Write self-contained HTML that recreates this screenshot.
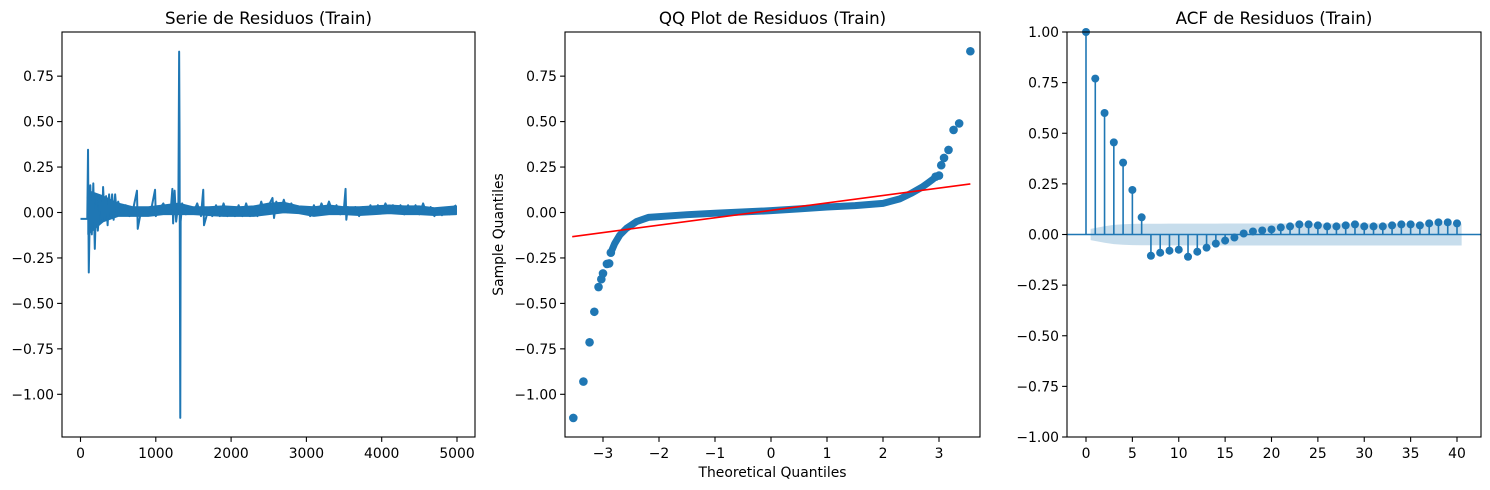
<!DOCTYPE html>
<html><head><meta charset="utf-8"><style>
html,body{margin:0;padding:0;background:#fff;}
svg{display:block;font-family:"DejaVu Sans","Liberation Sans",sans-serif;}
</style></head><body>
<svg id="fig" width="1490" height="490" viewBox="0 0 1490 490" xmlns="http://www.w3.org/2000/svg"></svg>
<script>
// ---- Panel 1 data: residual series (index, value) ----
const resIdx = [0,90,100,110,130,150,170,190,210,230,260,290,300,320,340,360,380,400,420,440,460,480,500,550,600,650,700,750,760,800,850,900,950,990,1000,1050,1100,1150,1200,1220,1230,1250,1270,1300,1310,1315,1325,1330,1350,1400,1450,1500,1550,1600,1630,1640,1700,1750,1800,1850,1900,1950,2000,2050,2100,2150,2200,2250,2300,2350,2400,2450,2500,2550,2570,2600,2650,2700,2750,2800,2850,2900,2950,3000,3050,3100,3150,3200,3250,3300,3350,3400,3450,3500,3520,3530,3550,3600,3650,3700,3750,3800,3850,3900,3950,4000,4050,4100,4150,4200,4250,4300,4350,4400,4450,4500,4550,4600,4650,4700,4750,4800,4850,4900,4950,4990];
const resVal = [-0.035,-0.035,0.345,-0.33,0.15,-0.12,0.16,-0.2,0.1,-0.1,0.08,-0.05,0.14,-0.04,0.09,-0.07,0.1,-0.02,0.1,-0.04,0.1,0.0,0.06,-0.01,0.04,-0.02,0.02,0.12,-0.09,0.0,0.02,-0.01,0.04,0.125,-0.02,0.02,0.05,0.0,0.02,0.13,-0.06,0.12,-0.05,0.05,0.885,0.45,-1.13,-0.05,0.05,-0.01,0.03,0.0,0.05,-0.02,0.125,-0.07,0.02,-0.02,0.04,-0.02,0.05,-0.02,0.03,-0.02,0.04,-0.02,0.05,-0.02,0.03,-0.02,0.06,-0.01,0.04,0.08,-0.03,0.06,0.0,0.07,0.0,0.05,0.0,0.03,0.0,0.02,-0.02,0.04,-0.01,0.05,0.0,0.06,0.0,0.04,-0.01,0.03,0.13,-0.04,0.03,-0.01,0.03,-0.02,0.03,-0.01,0.04,0.0,0.04,0.0,0.05,0.0,0.04,0.0,0.04,-0.01,0.04,0.0,0.04,-0.01,0.05,-0.01,0.03,-0.02,0.02,-0.015,0.02,-0.01,0.03,0.04];
// noise envelope of the dense series
const envIdx = [100,300,500,700,900,1100,1300,1500,1700,1900,2100,2300,2500,2700,2900,3100,3300,3500,3700,3900,4100,4300,4500,4700,4990];
const envHi  = [0.12,0.09,0.05,0.03,0.03,0.04,0.05,0.03,0.03,0.035,0.03,0.035,0.05,0.055,0.035,0.03,0.04,0.03,0.03,0.035,0.04,0.035,0.035,0.025,0.035];
const envLo  = [-0.12,-0.05,-0.02,-0.02,-0.02,-0.01,-0.01,-0.01,-0.015,-0.02,-0.02,-0.02,-0.01,0.0,-0.005,-0.02,-0.01,-0.01,-0.015,-0.01,-0.005,-0.01,-0.01,-0.015,-0.01];
const p1XTicks = [0,1000,2000,3000,4000,5000];
const yTicks = [0.75,0.5,0.25,0,-0.25,-0.5,-0.75,-1.0];
const yTickLabels = ["0.75","0.50","0.25","0.00","\u22120.25","\u22120.50","\u22120.75","\u22121.00"];

// ---- Panel 2 data: QQ ----
const qqBodyT = [-2.86,-2.79,-2.70,-2.58,-2.40,-2.19,-1.5,-1.0,0,0.5,1.0,1.5,2.0,2.3,2.5,2.7,2.8,2.9];
const qqBodyV = [-0.221,-0.17,-0.124,-0.087,-0.05,-0.027,-0.012,-0.004,0.01,0.02,0.03,0.038,0.05,0.075,0.105,0.14,0.162,0.185];
const qqTailT = [-3.53,-3.35,-3.24,-3.155,-3.08,-3.03,-3.0,-2.93,-2.89,-2.86,2.94,3.0,3.04,3.09,3.17,3.26,3.36,3.56];
const qqTailV = [-1.13,-0.93,-0.714,-0.546,-0.41,-0.367,-0.335,-0.283,-0.28,-0.221,0.197,0.203,0.26,0.30,0.344,0.454,0.49,0.887];
const qqLineT = [-3.55,3.56];
const qqLineV = [-0.133,0.157];
const p2XTicks = [-3,-2,-1,0,1,2,3];
const p2XTickLabels = ["\u22123","\u22122","\u22121","0","1","2","3"];

// ---- Panel 3 data: ACF ----
const acfVals = [1.0,0.77,0.60,0.455,0.355,0.22,0.085,-0.105,-0.09,-0.08,-0.075,-0.11,-0.085,-0.065,-0.045,-0.03,-0.015,0.005,0.015,0.02,0.025,0.035,0.04,0.05,0.05,0.045,0.04,0.04,0.045,0.05,0.04,0.04,0.04,0.045,0.05,0.05,0.045,0.055,0.06,0.06,0.055];
const nObs = 5000;
const p3XTicks = [0,5,10,15,20,25,30,35,40];
const p3YTicks = [1.0,0.75,0.5,0.25,0,-0.25,-0.5,-0.75,-1.0];
const p3YTickLabels = ["1.00","0.75","0.50","0.25","0.00","\u22120.25","\u22120.50","\u22120.75","\u22121.00"];

const NS = "http://www.w3.org/2000/svg";
const svg = document.getElementById("fig");
const BLUE = "#1f77b4";
const TFS = 13.9, TITLEFS = 16.7;
function mk(tag, attrs, parent){
  const e = document.createElementNS(NS, tag);
  for (const k in attrs) e.setAttribute(k, attrs[k]);
  (parent||svg).appendChild(e);
  return e;
}
function txt(s, attrs, parent){ const e = mk("text", attrs, parent); e.textContent = s; return e; }

function axesFrame(g, L, T, R, B){
  const f = mk("rect",{x:L,y:T,width:R-L,height:B-T,fill:"none",stroke:"#000","stroke-width":1.1},g);
  
  
}
function xTicks(g, vals, labels, sx, B){
  vals.forEach((v,i)=>{
    const x = sx(v);
    const t = mk("line",{x1:x,x2:x,y1:B,y2:B+4.9,stroke:"#000","stroke-width":1.1},g);
    
    
    const l = txt(labels[i],{x:x,y:B+21,"font-size":TFS,"text-anchor":"middle",fill:"#000"},g);
    
    
  });
}
function yTicksDraw(g, vals, labels, sy, L){
  vals.forEach((v,i)=>{
    const y = sy(v);
    const t = mk("line",{x1:L-4.9,x2:L,y1:y,y2:y,stroke:"#000","stroke-width":1.1},g);
    
    
    const l = txt(labels[i],{x:L-8,y:y+5,"font-size":TFS,"text-anchor":"end",fill:"#000"},g);
    
    
  });
}
function title(g, s, cx){
  const t = txt(s,{x:cx,y:24,"font-size":TITLEFS,"text-anchor":"middle",fill:"#000"},g);
  
  
}

// ===== Panel 1 =====
(function(){
  const L=62,T=32,R=475,B=437;
  const g = mk("g",{});
  
  
  const sx = v => 80.5 + (v-0)*(457-80.5)/5000;
  const sy = v => 212.5 - v*181.8;
  let e = "";
  envIdx.forEach((ix,i)=>{ e += (i?"L":"M") + sx(ix).toFixed(2)+","+sy(envHi[i]).toFixed(2); });
  for (let i=envIdx.length-1;i>=0;i--) e += "L"+sx(envIdx[i]).toFixed(2)+","+sy(envLo[i]).toFixed(2);
  const env = mk("path",{d:e+"Z",fill:BLUE,stroke:BLUE,"stroke-width":1.5,"stroke-linejoin":"round"},g);
  
  
  let d = "";
  resIdx.forEach((ix,i)=>{ d += (i?"L":"M") + sx(ix).toFixed(2)+","+sy(resVal[i]).toFixed(2); });
  const p = mk("path",{d:d,fill:"none",stroke:BLUE,"stroke-width":2,"stroke-linejoin":"round"},g);
  
  
  axesFrame(g,L,T,R,B);
  xTicks(g,p1XTicks,p1XTicks.map(String),sx,B);
  yTicksDraw(g,yTicks,yTickLabels,sy,L);
  title(g,"Serie de Residuos (Train)",(L+R)/2);
})();

// ===== Panel 2 =====
(function(){
  const L=565,T=32,R=980,B=437;
  const g = mk("g",{});
  
  
  const sx = v => 771 + v*56;
  const sy = v => 212.5 - v*181.8;
  let d="";
  qqBodyT.forEach((t,i)=>{ d += (i?"L":"M")+sx(t).toFixed(2)+","+sy(qqBodyV[i]).toFixed(2); });
  const body = mk("path",{d:d,fill:"none",stroke:BLUE,"stroke-width":7,"stroke-linecap":"round","stroke-linejoin":"round"},g);
  
  
  qqTailT.forEach((t,i)=>{
    const c = mk("circle",{cx:sx(t),cy:sy(qqTailV[i]),r:4.3,fill:BLUE},g);
    
    
  });
  const ln = mk("line",{x1:sx(qqLineT[0]),y1:sy(qqLineV[0]),x2:sx(qqLineT[1]),y2:sy(qqLineV[1]),stroke:"#ff0000","stroke-width":1.6},g);
  
  
  axesFrame(g,L,T,R,B);
  xTicks(g,p2XTicks,p2XTickLabels,sx,B);
  yTicksDraw(g,yTicks,yTickLabels,sy,L);
  title(g,"QQ Plot de Residuos (Train)",(L+R)/2);
  const xl = txt("Theoretical Quantiles",{x:(L+R)/2,y:477,"font-size":TFS,"text-anchor":"middle"},g);
  
  
  const yl = txt("Sample Quantiles",{x:0,y:0,"font-size":TFS,"text-anchor":"middle",transform:"translate(503,"+((T+B)/2)+") rotate(-90)"},g);
  
  
})();

// ===== Panel 3 =====
(function(){
  const L=1067,T=32,R=1481,B=437;
  const g = mk("g",{});
  
  
  const sx = v => 1086 + v*(1457-1086)/40;
  const sy = v => 234.5 - v*202.5;
  const se = []; let cum = 0;
  for (let k=1;k<acfVals.length;k++){
    se.push(1.96/Math.sqrt(nObs)*Math.sqrt(1+2*cum));
    cum += acfVals[k]*acfVals[k];
  }
  let up="", lo="";
  se.forEach((s,i)=>{
    let k = i+1; if (k===1) k=0.5; if (k===acfVals.length-1) k+=0.5;
    up += (i?"L":"M")+sx(k).toFixed(2)+","+sy(s).toFixed(2);
  });
  for (let i=se.length-1;i>=0;i--){
    let k=i+1; if (k===1) k=0.5; if (k===acfVals.length-1) k+=0.5;
    lo += "L"+sx(k).toFixed(2)+","+sy(-se[i]).toFixed(2);
  }
  const band = mk("path",{d:up+lo+"Z",fill:BLUE,"fill-opacity":0.25,stroke:"none"},g);
  
  
  const zl = mk("line",{x1:L,x2:R,y1:sy(0),y2:sy(0),stroke:BLUE,"stroke-width":1.6},g);
  
  
  acfVals.forEach((v,k)=>{
    const s = mk("line",{x1:sx(k),x2:sx(k),y1:sy(0),y2:sy(v),stroke:BLUE,"stroke-width":1.6},g);
    
    
    const c = mk("circle",{cx:sx(k),cy:sy(v),r:4,fill:BLUE},g);
    
    
  });
  axesFrame(g,L,T,R,B);
  xTicks(g,p3XTicks,p3XTicks.map(String),sx,B);
  yTicksDraw(g,p3YTicks,p3YTickLabels,sy,L);
  title(g,"ACF de Residuos (Train)",(L+R)/2);
})();
</script>
</body></html>
